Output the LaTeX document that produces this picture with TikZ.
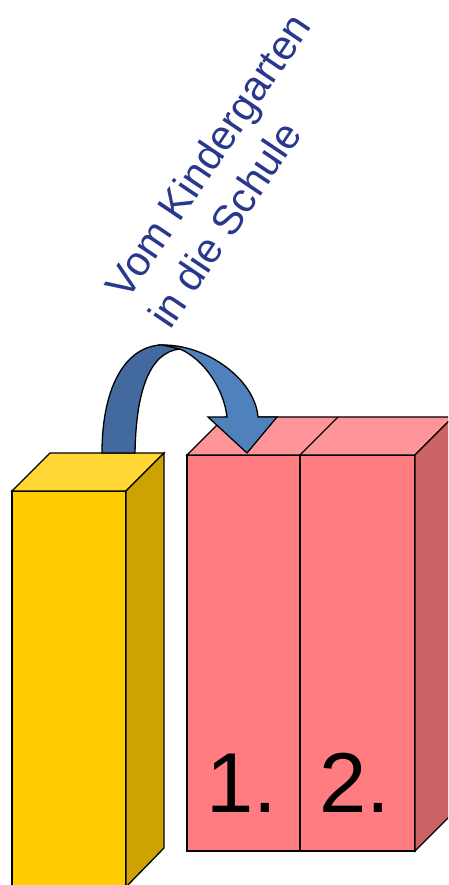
\documentclass[tikz,border=0pt]{standalone}
\usepackage{fontspec}
\setmainfont{Liberation Sans}
\definecolor{yfront}{HTML}{FFCC00}
\definecolor{ytop}{HTML}{FFD633}
\definecolor{yside}{HTML}{CCA300}
\definecolor{rfront}{HTML}{FF7C80}
\definecolor{rtop}{HTML}{FF9599}
\definecolor{rside}{HTML}{CC6366}
\definecolor{adark}{HTML}{436A9E}
\definecolor{alight}{HTML}{4F81BD}
\definecolor{tblue}{RGB}{41,56,140}
\tikzset{
  face/.style={draw=black, line width=1.3pt, line join=miter},
  lbl/.style={text=tblue, font=\fontsize{41.5}{50}\selectfont, inner sep=0pt, rotate=56, anchor=base west},
  num/.style={text=black, font=\fontsize{85}{100}\selectfont, inner sep=0pt, anchor=base}
}
\begin{document}
\begin{tikzpicture}[x=1pt,y=1pt]
\useasboundingbox (0,0) rectangle (448,885);
\begin{scope}
\clip (0,0) rectangle (448,885);
% yellow column
\filldraw[face, fill=yfront] (12,-2) rectangle (126,394);
\filldraw[face, fill=ytop] (12,394) -- (126,394) -- (164,432) -- (50,432) -- cycle;
\filldraw[face, fill=yside] (126,394) -- (164,432) -- (164,37) -- (126,-2) -- cycle;
% red block
\filldraw[face, fill=rfront] (187,34) rectangle (415,430);
\draw[face] (300,34) -- (300,430);
\filldraw[face, fill=rtop] (187,430) -- (415,430) -- (453,468) -- (225,468) -- cycle;
\draw[face] (300,430) -- (338,468);
\filldraw[face, fill=rside] (415,430) -- (453,468) -- (453,72) -- (415,34) -- cycle;
% arrow
\filldraw[face, fill=adark] (102,432) .. controls (102,502) and (128,540) .. (163,540)
  -- (180,536) .. controls (150,533) and (136,495) .. (135,432) -- cycle;
\filldraw[face, fill=alight] (163,540) .. controls (208,540) and (255,505) .. (258,468)
  -- (277,468) -- (247,432) -- (208,468) -- (227,468)
  .. controls (224,495) and (205,525) .. (180,536) -- cycle;
\end{scope}
% labels
\node[lbl] (l1) at (127,583) {Vom Kindergarten};
\node[lbl] (l2) at (170,554) {in die Schule};
\node[num] (n1) at (242,72) {1.};
\node[num] (n2) at (355,72) {2.};
\end{tikzpicture}
\end{document}
